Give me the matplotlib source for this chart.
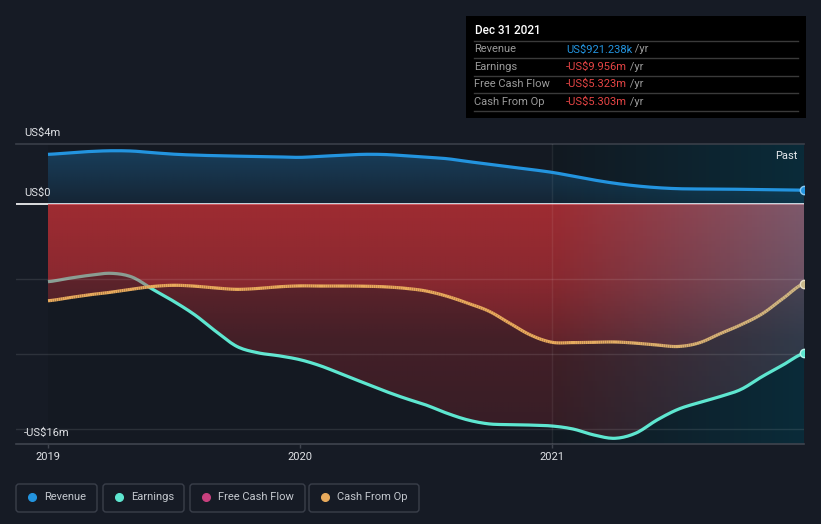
import numpy as np
import matplotlib.pyplot as plt
from matplotlib.patches import FancyBboxPatch, Rectangle, Polygon
from matplotlib.collections import LineCollection

plt.rcParams['font.family'] = ['Roboto', 'DejaVu Sans']

# monthly readings, US$ millions, Dec 2018 .. Dec 2021
revenue = [3.31, 3.41, 3.50, 3.55, 3.53, 3.42, 3.32, 3.26, 3.22, 3.19, 3.17, 3.14,
           3.11, 3.18, 3.25, 3.31, 3.30, 3.22, 3.12, 3.02, 2.83, 2.65, 2.47, 2.30,
           2.11, 1.86, 1.60, 1.38, 1.21, 1.09, 1.02, 1.00, 0.99, 0.98, 0.96, 0.94, 0.921]
earnings = [-5.18, -4.95, -4.75, -4.62, -4.87, -5.70, -6.50, -7.40, -8.50, -9.50, -9.92, -10.12,
            -10.38, -10.80, -11.35, -11.90, -12.45, -12.95, -13.40, -13.95, -14.40, -14.66, -14.71, -14.74,
            -14.80, -15.00, -15.40, -15.62, -15.27, -14.40, -13.69, -13.24, -12.84, -12.36, -11.51, -10.73, -9.956]
cash_from_op = [-6.45, -6.25, -6.05, -5.88, -5.68, -5.50, -5.42, -5.48, -5.60, -5.69, -5.63, -5.52,
                -5.46, -5.47, -5.47, -5.48, -5.52, -5.62, -5.80, -6.15, -6.62, -7.15, -7.96, -8.75,
                -9.22, -9.24, -9.22, -9.20, -9.28, -9.40, -9.50, -9.26, -8.65, -8.05, -7.33, -6.30, -5.303]
years = 2019 + np.arange(len(revenue)) / 12

y_ticks = [4, 0, -16]
y_tick_labels = ['US$4m', 'US$0', '-US$16m']
x_ticks = [2019, 2020, 2021]

legend_names = ['Revenue', 'Earnings', 'Free Cash Flow', 'Cash From Op']
legend_colors = ['#2394df', '#5ee6d0', '#c8407e', '#e8aa5c']

tip_title = 'Dec 31 2021'
tip_labels = ['Revenue', 'Earnings', 'Free Cash Flow', 'Cash From Op']
tip_values = ['US$921.238k', '-US$9.956m', '-US$5.323m', '-US$5.303m']
tip_colors = ['#2394df', '#e64545', '#e64545', '#e64545']

BG = '#161b25'
W, H = 821, 524


def smooth(x, y, n=10):
    # catmull-rom through the readings
    x = np.asarray(x, float)
    p = np.concatenate([[y[0]], y, [y[-1]]])
    xs, ys = [], []
    t = np.linspace(0, 1, n, endpoint=False)
    for i in range(len(y) - 1):
        p0, p1, p2, p3 = p[i], p[i + 1], p[i + 2], p[i + 3]
        ys.append(0.5 * (2 * p1 + (-p0 + p2) * t + (2 * p0 - 5 * p1 + 4 * p2 - p3) * t ** 2
                         + (-p0 + 3 * p1 - 3 * p2 + p3) * t ** 3))
        xs.append(x[i] + (x[i + 1] - x[i]) * t)
    xs.append([x[-1]])
    ys.append([y[-1]])
    return np.concatenate(xs), np.concatenate(ys)


def gradient_fill(ax, x, y1, y2, img, extent, z):
    verts = np.column_stack([np.r_[x, x[::-1]], np.r_[y1, y2[::-1]]])
    patch = Polygon(verts, closed=True, facecolor='none', edgecolor='none')
    ax.add_patch(patch)
    im = ax.imshow(img, extent=extent, origin='lower', aspect='auto',
                   zorder=z, interpolation='bilinear')
    im.set_clip_path(patch)


fig = plt.figure(figsize=(W / 100, H / 100), dpi=100, facecolor=BG)
ax = fig.add_axes([16 / W, 80 / H, 788 / W, 300 / H])
ax.set_facecolor(BG)
for s in ax.spines.values():
    s.set_visible(False)

# background bands
ax.axvspan(2019, 2021, color='#141922', lw=0, zorder=0)
past = np.zeros((1, 200, 3))
mix = np.linspace(0, 1, 200)[:, None]
past[0] = (np.array([18, 25, 33]) * (1 - mix) + np.array([10, 43, 57]) * mix) / 255
ax.imshow(past, extent=[2021, 2022, -16, 4], aspect='auto', zorder=0)

ax.axhline(0, color='white', lw=1.2, zorder=1)

rx, ry = smooth(years, revenue)
ex, ey = smooth(years, earnings)
cx, cy = smooth(years, cash_from_op)

# revenue area
ny, nx = 120, 300
yy = np.linspace(0, 4, ny)
blue = np.zeros((ny, nx, 4))
blue[..., :3] = np.array([35, 148, 223]) / 255
blue[..., 3] = np.interp(yy, [0, 3.5], [0.10, 0.30])[:, None]
gradient_fill(ax, rx, ry, np.zeros_like(rx), blue, [2019, 2022, 0, 4], 2)

# loss areas
yy = np.linspace(-16, 0, ny)
xx = np.linspace(2019, 2022, nx)
mix = np.clip(xx - 2021, 0, 1)[:, None]
red = np.zeros((ny, nx, 4))
red[..., :3] = ((np.array([205, 50, 56]) * (1 - mix) + np.array([165, 105, 125]) * mix) / 255)[None]
red[..., 3] = np.interp(yy, [-16, -9, -5, 0], [0.18, 0.26, 0.40, 0.50])[:, None]
gradient_fill(ax, ex, ey, np.zeros_like(ex), red, [2019, 2022, -16, 0], 2)
ax.plot(ex, ey, color=legend_colors[1], lw=2.3, zorder=2.5, solid_capstyle='butt')
gradient_fill(ax, cx, cy, np.zeros_like(cx), red, [2019, 2022, -16, 0], 3)

# grid
for v in [-5, -10, -15]:
    ax.axhline(v, color='white', alpha=0.1, lw=1, zorder=4)
ax.axhline(4, color='#3a3f49', lw=1.2, zorder=4, clip_on=False)
ax.axhline(-16, color='#3f444e', lw=1.2, zorder=4, clip_on=False)
ax.axvline(2021, color='white', alpha=0.07, lw=1, zorder=4)

# lines
ax.plot(rx, ry, color=legend_colors[0], lw=2.3, zorder=5, solid_capstyle='butt')
seg_pts = np.column_stack([cx, cy]).reshape(-1, 1, 2)
segs = np.concatenate([seg_pts[:-1], seg_pts[1:]], axis=1)
tint = np.clip(cx[:-1] - 2021, 0, 1)[:, None]
cols = (np.array([232, 170, 92]) * (1 - tint * 0.8) + np.array([200, 185, 140]) * tint * 0.8) / 255
ax.add_collection(LineCollection(segs, colors=cols, lw=2.3, zorder=5, capstyle='butt', joinstyle='round'))

ax.plot(years[-1], revenue[-1], 'o', ms=6, mfc=legend_colors[0], mec='#8cc8f0', mew=1, zorder=6)
ax.plot(years[-1], earnings[-1], 'o', ms=6, mfc=legend_colors[1], mec='#b8f5ea', mew=1, zorder=6)
ax.plot(years[-1], cash_from_op[-1], 'o', ms=6, mfc='#c8b88c', mec='#e8e0c8', mew=1, zorder=6)

ax.set_xlim(2019 - 32 / 252, 2022)
ax.set_ylim(-16, 4)
ax.set_yticks([])
ax.set_xticks(x_ticks, [str(t) for t in x_ticks])
ax.tick_params(axis='x', colors='#3f444e', labelcolor='#e0e2e6', labelsize=8, length=3, width=1, pad=3)

for v, lab in zip(y_ticks, y_tick_labels):
    ax.annotate(lab, xy=(0, v), xycoords=('axes fraction', 'data'), xytext=(8, 6),
                textcoords='offset pixels', va='bottom', ha='left', fontsize=8, color='#e0e2e6', zorder=7)
ax.annotate('Past', xy=(1, 1), xycoords='axes fraction', xytext=(-7, -12), textcoords='offset pixels',
            ha='right', va='center', fontsize=8, color='#e8eaee', zorder=7)

# overlay in pixel coordinates for tooltip and legend
ov = fig.add_axes([0, 0, 1, 1], facecolor='none')
ov.set_xlim(0, W)
ov.set_ylim(H, 0)
ov.axis('off')

ov.add_patch(Rectangle((466, 16), 340, 102, facecolor='black', edgecolor='none'))
ov.text(475, 31, tip_title, color='white', fontsize=8.5, fontweight='medium', va='center')
for yl in [41, 58, 76, 93, 111]:
    ov.plot([474, 798], [yl, yl], color='#3a3a3a', lw=1)
for i, (lab, val, col) in enumerate(zip(tip_labels, tip_values, tip_colors)):
    yc = 49.5 + i * 17.4
    ov.text(474, yc, lab, color='#9a9a9a', fontsize=8, va='center')
    t = ov.text(566, yc, val, color=col, fontsize=8, va='center')
    ov.annotate(' /yr', xy=(1, 0.5), xycoords=t, va='center', ha='left', color='#9a9a9a', fontsize=8)

box_x = [16, 103, 190, 309]
box_w = [81, 81, 115, 110]
for bx, bw, name, col in zip(box_x, box_w, legend_names, legend_colors):
    ov.add_patch(FancyBboxPatch((bx, 484), bw, 28, boxstyle='round,pad=0,rounding_size=3',
                                facecolor='none', edgecolor='#3a3f4a', lw=1))
    ov.plot(bx + 15.5, 497, 'o', ms=5.5, color=col)
    ov.text(bx + 28, 497, name, color='#c4c8ce', fontsize=8, va='center')

fig.savefig('out.png', dpi=100, facecolor=BG)
